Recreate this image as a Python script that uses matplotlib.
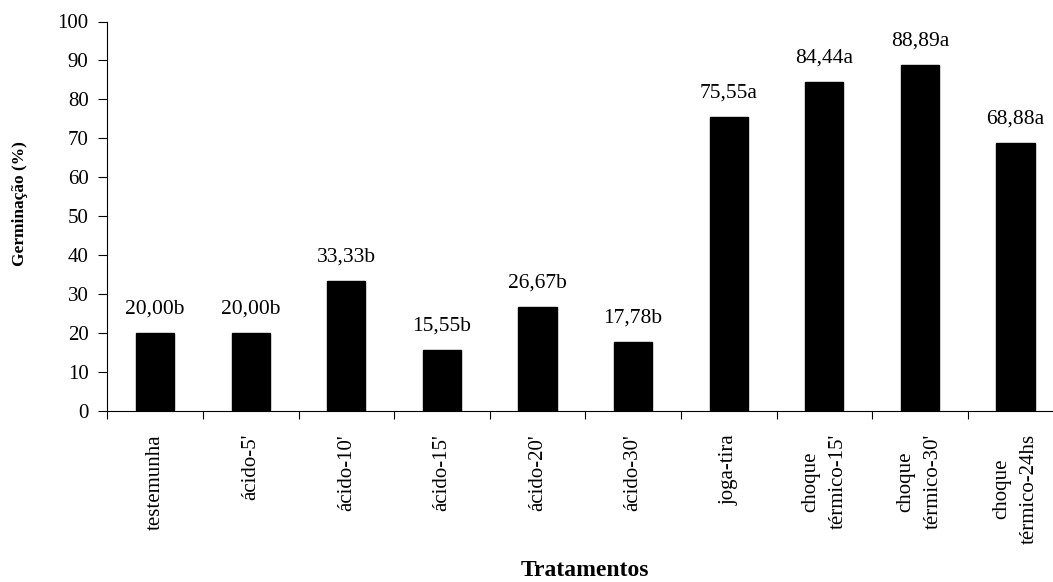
import matplotlib.pyplot as plt

tratamentos = ["testemunha", "ácido-5'", "ácido-10'", "ácido-15'", "ácido-20'",
               "ácido-30'", "joga-tira", "choque\ntérmico-15'", "choque\ntérmico-30'",
               "choque\ntérmico-24hs"]
germinacao = [20.00, 20.00, 33.33, 15.55, 26.67, 17.78, 75.55, 84.44, 88.89, 68.88]
letras = ["b", "b", "b", "b", "b", "b", "a", "a", "a", "a"]

plt.rcParams['font.family'] = ['Liberation Serif', 'DejaVu Serif']

fig = plt.figure(figsize=(10.53, 5.82), dpi=100)
ax = fig.add_axes([107.3 / 1053, 1 - 411 / 582, 956 / 1053, 389.5 / 582])

x = list(range(len(tratamentos)))
ax.bar(x, germinacao, width=0.4, color='black', edgecolor='black')

# rotulos com a letra do teste de medias
for xi, v, l in zip(x, germinacao, letras):
    txt = f'{v:.2f}'.replace('.', ',') + l
    ax.annotate(txt, (xi, v), xytext=(0, 10.5), textcoords='offset points',
                ha='center', va='bottom', fontsize=15.5)

ax.set_xlim(-0.5, len(tratamentos) - 0.5)
ax.set_ylim(0, 100)
ax.set_yticks(range(0, 101, 10))
ax.tick_params(axis='y', labelsize=15, length=6.5, width=0.8, pad=7)

ax.set_xticks([i - 0.5 for i in range(len(tratamentos) + 1)])
ax.set_xticklabels([])
ax.set_xticks(x, minor=True)
ax.set_xticklabels(tratamentos, minor=True, rotation=90, fontsize=15,
                   va='top', ha='center', multialignment='center', linespacing=1.6)
ax.tick_params(axis='x', which='major', length=6, width=0.8)
ax.tick_params(axis='x', which='minor', length=0, pad=16.5)

ax.spines['top'].set_visible(False)
ax.spines['right'].set_visible(False)

fig.text(20 / 1053, 1 - 204 / 582, 'Germinação (%)', rotation=90, fontsize=12.5,
         fontweight='bold', ha='center', va='center')
fig.text(585 / 1053, 1 - 571 / 582, 'Tratamentos', fontsize=17,
         fontweight='bold', ha='center', va='center')

fig.savefig('out.png', dpi=100)
